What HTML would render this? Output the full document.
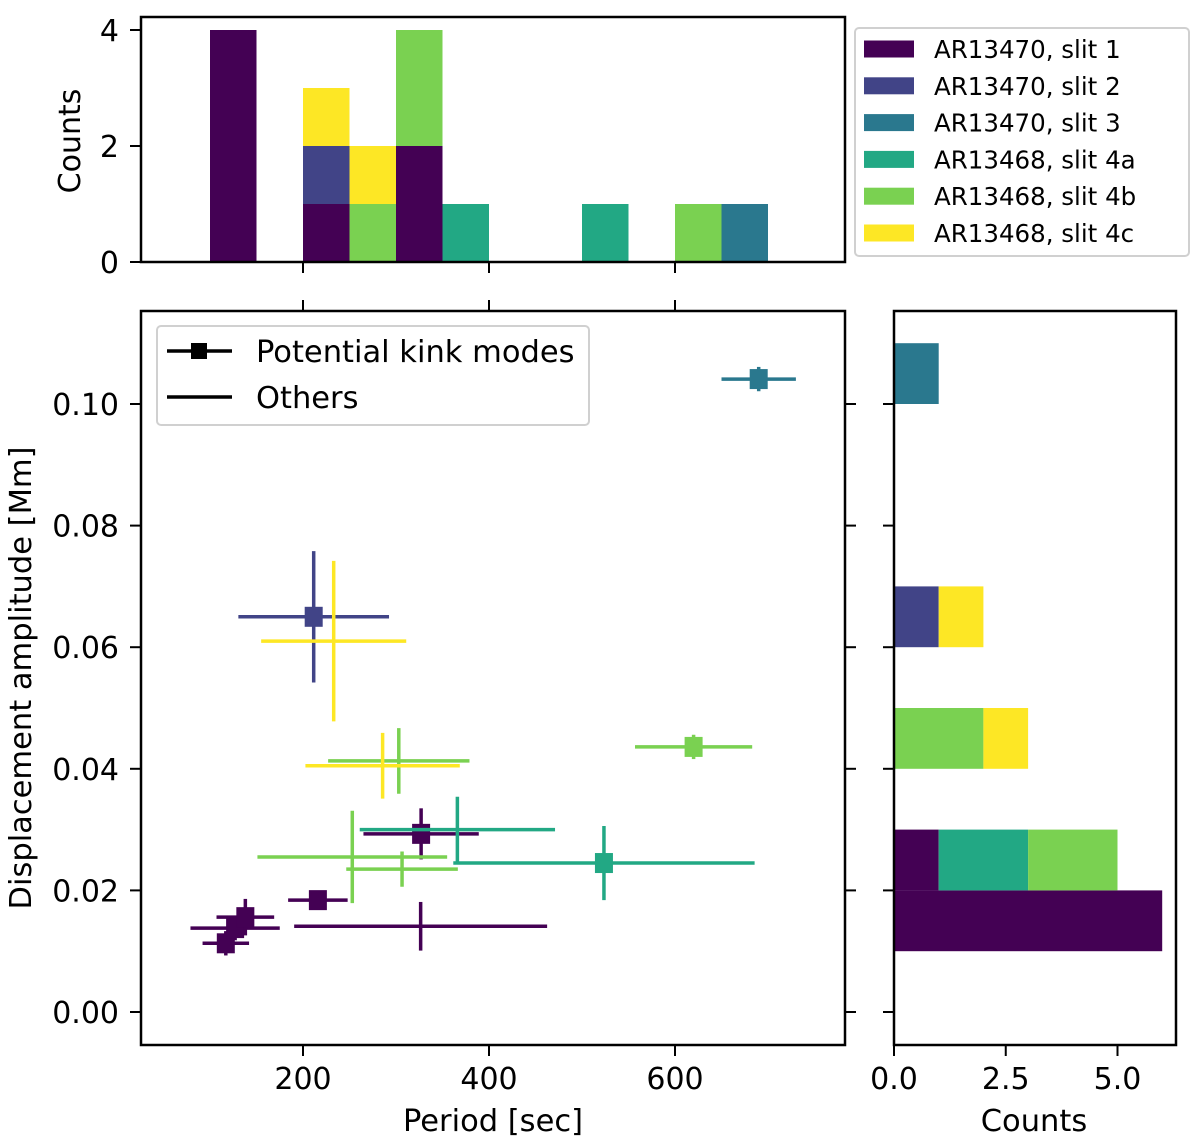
<!DOCTYPE html>
<html><head><meta charset="utf-8"><style>
html,body{margin:0;padding:0;background:#fff;}
svg{display:block;font-family:"DejaVu Sans","Liberation Sans",sans-serif;}
</style></head><body>
<svg id="fig" width="1200" height="1142" viewBox="0 0 1200 1142"></svg>
<script>
const seriesNames = ["AR13470, slit 1","AR13470, slit 2","AR13470, slit 3","AR13468, slit 4a","AR13468, slit 4b","AR13468, slit 4c"];
const seriesColors = ["#440154","#414487","#2a788e","#22a884","#7ad151","#fde725"];
const ptSeries = [0,0,0,0,0,0, 1, 2, 3,3, 4,4,4,4, 5,5];
const ptPeriod = [117,127,138,216,327,326.5, 211.5, 690, 523.6,366, 620,303,253,306.5, 233,285.6];
const ptAmp    = [0.0113,0.0138,0.0156,0.0184,0.0293,0.0141, 0.065, 0.1041, 0.0245,0.030, 0.0436,0.0413,0.0255,0.0235, 0.061,0.0405];
const ptPerErr = [25,48,31,32,62,136, 81, 40, 162,105, 63,76,102,60, 78,83];
const ptAmpErr = [0.002,0.002,0.003,0.001,0.0042,0.004, 0.0108, 0.002, 0.0061,0.0054, 0.002,0.0054,0.0076,0.0029, 0.0132,0.0054];
const ptKink   = [1,1,1,1,1,0, 1, 1, 1,0, 1,0,0,0, 0,0];
const perBins = [100,150,200,250,300,350,400,450,500,550,600,650,700];
const perCounts = [
 [4,0,1,0,2,0,0,0,0,0,0,0],
 [0,0,1,0,0,0,0,0,0,0,0,0],
 [0,0,0,0,0,0,0,0,0,0,0,1],
 [0,0,0,0,0,1,0,0,1,0,0,0],
 [0,0,0,1,2,0,0,0,0,0,1,0],
 [0,0,1,1,0,0,0,0,0,0,0,0]
];
const ampBins = [0.01,0.02,0.03,0.04,0.05,0.06,0.07,0.08,0.09,0.10,0.11];
const ampCounts = [
 [6,1,0,0,0,0,0,0,0,0],
 [0,0,0,0,0,1,0,0,0,0],
 [0,0,0,0,0,0,0,0,0,1],
 [0,2,0,0,0,0,0,0,0,0],
 [0,2,0,2,0,0,0,0,0,0],
 [0,0,0,1,0,1,0,0,0,0]
];
const xTicks = [200,400,600];
const yTicks = [0,0.02,0.04,0.06,0.08,0.10];
const yTickLabels = ["0.00","0.02","0.04","0.06","0.08","0.10"];
const cTicks = [0,2,4];
const rTicks = [0,2.5,5];
const rTickLabels = ["0.0","2.5","5.0"];

const NS="http://www.w3.org/2000/svg";
const svg=document.getElementById('fig');
function mk(tag,attrs,parent){const e=document.createElementNS(NS,tag);for(const k in attrs)e.setAttribute(k,attrs[k]);(parent||svg).appendChild(e);return e;}
const X=v=>117+(v)*0.93;
const Y=v=>1012-v*6080;
const CY=c=>262-c*58;
const RX=c=>894+c*44.7;
const FS=30;

const gTop=mk('g',{});


for(let b=0;b<perBins.length-1;b++){
  let base=0;
  for(let s=0;s<perCounts.length;s++){
    const c=perCounts[s][b]; if(!c) continue;
    const r=mk('rect',{x:X(perBins[b]),y:CY(base+c),width:X(perBins[b+1])-X(perBins[b]),height:CY(base)-CY(base+c),fill:seriesColors[s]},gTop);
    
    
    base+=c;
  }
}
const f1=mk('rect',{x:141,y:17,width:704,height:245,fill:'none',stroke:'#000','stroke-width':2.5});


cTicks.forEach(c=>{
  mk('line',{x1:130,x2:141,y1:CY(c),y2:CY(c),stroke:'#000','stroke-width':2});
  const t=mk('text',{x:119,y:CY(c)+11,'font-size':FS,'text-anchor':'end'});t.textContent=c;
  
  
});
xTicks.forEach(v=>{
  mk('line',{x1:X(v),x2:X(v),y1:262,y2:273,stroke:'#000','stroke-width':2});
  mk('line',{x1:X(v),x2:X(v),y1:300,y2:311,stroke:'#000','stroke-width':2});
});
const tc=mk('text',{x:0,y:0,'font-size':FS,'text-anchor':'middle',transform:'translate(80,141) rotate(-90)'});tc.textContent='Counts';



const lg=mk('g',{});


mk('rect',{x:855,y:28,width:334,height:228,rx:4,fill:'#fff',stroke:'#d0d0d0','stroke-width':2},lg);
seriesNames.forEach((n,i)=>{
  const y=49+i*36.8;
  mk('rect',{x:864,y:y-8.5,width:50,height:17,fill:seriesColors[i]},lg);
  const t=mk('text',{x:934,y:y+9,'font-size':24.5},lg);t.textContent=n;
  
  
});

const gS=mk('g',{});


for(let i=0;i<ptPeriod.length;i++){
  const c=seriesColors[ptSeries[i]],x=X(ptPeriod[i]),y=Y(ptAmp[i]);
  const g=mk('g',{},gS);
  
  
  mk('line',{x1:X(ptPeriod[i]-ptPerErr[i]),x2:X(ptPeriod[i]+ptPerErr[i]),y1:y,y2:y,stroke:c,'stroke-width':3.5},g);
  mk('line',{x1:x,x2:x,y1:Y(ptAmp[i]-ptAmpErr[i]),y2:Y(ptAmp[i]+ptAmpErr[i]),stroke:c,'stroke-width':3.5},g);
  if(ptKink[i]) mk('rect',{x:x-9,y:y-10,width:18,height:20,fill:c},g);
}
const f2=mk('rect',{x:141,y:311,width:704,height:734,fill:'none',stroke:'#000','stroke-width':2.5});


xTicks.forEach(v=>{
  mk('line',{x1:X(v),x2:X(v),y1:1045,y2:1056,stroke:'#000','stroke-width':2});
  const t=mk('text',{x:X(v),y:1089,'font-size':FS,'text-anchor':'middle'});t.textContent=v;
  
  
});
yTicks.forEach((v,i)=>{
  mk('line',{x1:130,x2:141,y1:Y(v),y2:Y(v),stroke:'#000','stroke-width':2});
  mk('line',{x1:845,x2:856,y1:Y(v),y2:Y(v),stroke:'#000','stroke-width':2});
  mk('line',{x1:883,x2:894,y1:Y(v),y2:Y(v),stroke:'#000','stroke-width':2});
  const t=mk('text',{x:119,y:Y(v)+11,'font-size':FS,'text-anchor':'end'});t.textContent=yTickLabels[i];
  
  
});
const xl=mk('text',{x:493,y:1131,'font-size':30.5,'text-anchor':'middle'});xl.textContent='Period [sec]';


const yl=mk('text',{x:0,y:0,'font-size':30.5,'text-anchor':'middle',transform:'translate(31,678) rotate(-90)'});yl.textContent='Displacement amplitude [Mm]';



const l2=mk('g',{});


mk('rect',{x:157,y:326,width:432,height:99,rx:4,fill:'#fff',stroke:'#d0d0d0','stroke-width':2},l2);
mk('line',{x1:167,x2:232,y1:351,y2:351,stroke:'#000','stroke-width':3.5},l2);
mk('rect',{x:191,y:343,width:16,height:16,fill:'#000'},l2);
mk('line',{x1:167,x2:232,y1:397,y2:397,stroke:'#000','stroke-width':3.5},l2);
const lt1=mk('text',{x:256,y:362,'font-size':30.5},l2);lt1.textContent='Potential kink modes';


const lt2=mk('text',{x:256,y:408,'font-size':30.5},l2);lt2.textContent='Others';



const gR=mk('g',{});


for(let b=0;b<ampBins.length-1;b++){
  let base=0;
  for(let s=0;s<ampCounts.length;s++){
    const c=ampCounts[s][b]; if(!c) continue;
    const r=mk('rect',{x:RX(base),y:Y(ampBins[b+1]),width:RX(base+c)-RX(base),height:Y(ampBins[b])-Y(ampBins[b+1]),fill:seriesColors[s]},gR);
    
    
    base+=c;
  }
}
const f3=mk('rect',{x:894,y:311,width:282,height:734,fill:'none',stroke:'#000','stroke-width':2.5});


rTicks.forEach((v,i)=>{
  mk('line',{x1:RX(v),x2:RX(v),y1:1045,y2:1056,stroke:'#000','stroke-width':2});
  const t=mk('text',{x:RX(v),y:1089,'font-size':FS,'text-anchor':'middle'});t.textContent=rTickLabels[i];
  
  
});
const rl=mk('text',{x:1034,y:1131,'font-size':30.5,'text-anchor':'middle'});rl.textContent='Counts';


</script>
</body></html>
